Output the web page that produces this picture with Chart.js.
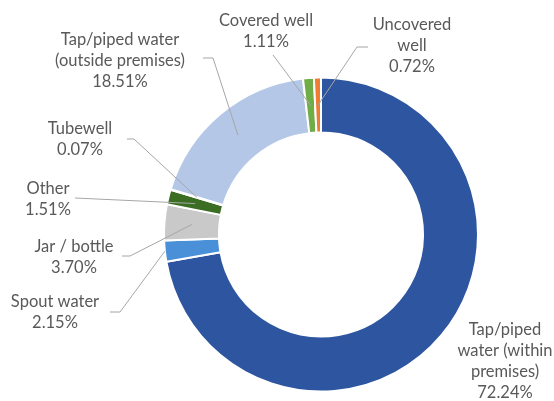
<!DOCTYPE html>
<html>
<head>
<meta charset="utf-8">
<script src="https://cdn.jsdelivr.net/npm/chart.js@4.4.1/dist/chart.umd.min.js"></script>
<style>
  html, body { margin: 0; padding: 0; background: #fff; }
  #wrap { width: 554px; height: 401px; position: relative; }
</style>
</head>
<body>
<div id="wrap"><canvas id="sourceChart"></canvas></div>
<script>
// Drinking water source shares (%)
const categories = ['Tap/piped water (within premises)', 'Spout water', 'Jar / bottle', 'Other',
    'Tubewell', 'Tap/piped water (outside premises)', 'Covered well', 'Uncovered well'];
const shares = [72.24, 2.15, 3.70, 1.51, 0.07, 18.51, 1.11, 0.72];
const labelLines = [['Tap/piped', 'water (within', 'premises)'], ['Spout water'], ['Jar / bottle'], ['Other'],
    ['Tubewell'], ['Tap/piped water', '(outside premises)'], ['Covered well'], ['Uncovered', 'well']];

const sliceColors = ['#2D55A0', '#4A90D9', '#C9C9C9', '#3B6E22', '#FFC000', '#B4C7E7', '#70AD47', '#ED7D31'];

// label placement: text centre x, first line centre y, leader start points, where the leader ends (0 = mid ring, 1 = outer edge)
const labelPlaces = [
    { x: 505, y: 330, path: null },
    { x: 55, y: 302, path: [[110, 312], [120, 312]], end: 1 },
    { x: 74, y: 247, path: [[122, 256], [130, 256]], end: 0 },
    { x: 48, y: 189, path: [[75, 198]], end: 0 },
    { x: 80, y: 129, path: [[127, 139], [134, 139]], end: 0 },
    { x: 120, y: 40, path: [[203, 58], [213, 58]], end: 0 },
    { x: 266, y: 21, path: [[273, 55]], end: 0 },
    { x: 412, y: 25, path: [[368, 47], [357, 47]], end: 0 }
];

const textFont = '16.5px Lato, "Open Sans", sans-serif';
const lineGap = 21;

const labelPlugin = {
    id: 'sliceLabels',
    afterDraw(chart) {
        const ctx = chart.ctx;
        const arcs = chart.getDatasetMeta(0).data;
        ctx.save();
        // leader lines
        ctx.strokeStyle = '#A6A6A6';
        ctx.lineWidth = 1;
        labelPlaces.forEach((p, i) => {
            if (!p.path) return;
            const arc = arcs[i].getProps(['x', 'y', 'startAngle', 'endAngle', 'innerRadius', 'outerRadius'], true);
            const mid = (arc.startAngle + arc.endAngle) / 2;
            const r = p.end ? arc.outerRadius : (arc.innerRadius + arc.outerRadius) / 2;
            ctx.beginPath();
            ctx.moveTo(p.path[0][0], p.path[0][1]);
            p.path.slice(1).forEach(pt => ctx.lineTo(pt[0], pt[1]));
            ctx.lineTo(arc.x + Math.cos(mid) * r, arc.y + Math.sin(mid) * r);
            ctx.stroke();
        });
        // texts
        ctx.fillStyle = '#595959';
        ctx.font = textFont;
        ctx.textAlign = 'center';
        ctx.textBaseline = 'middle';
        labelPlaces.forEach((p, i) => {
            const lines = labelLines[i].concat([shares[i].toFixed(2) + '%']);
            lines.forEach((t, k) => ctx.fillText(t, p.x, p.y + k * lineGap));
        });
        ctx.restore();
    }
};

document.addEventListener('DOMContentLoaded', function () {
    const ctx = document.getElementById('sourceChart').getContext('2d');
    new Chart(ctx, {
        type: 'doughnut',
        data: {
            labels: categories,
            datasets: [{
                data: shares,
                backgroundColor: sliceColors,
                borderColor: '#ffffff',
                borderWidth: 2
            }]
        },
        options: {
            responsive: true,
            maintainAspectRatio: false,
            animation: false,
            cutout: '65%',
            layout: { padding: { top: 76, bottom: 8, left: 163, right: 75 } },
            plugins: {
                legend: { display: false },
                tooltip: { enabled: false }
            }
        },
        plugins: [labelPlugin]
    });
});
</script>
</body>
</html>
